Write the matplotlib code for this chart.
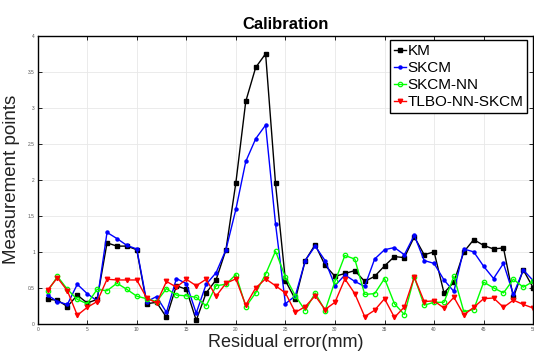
import numpy as np
import matplotlib
matplotlib.use('Agg')
import matplotlib.pyplot as plt

plt.rcParams['font.family'] = ['Liberation Sans', 'DejaVu Sans']

x = np.arange(1, 51)

km = [0.34, 0.33, 0.24, 0.40, 0.29, 0.34, 1.125, 1.08, 1.08, 1.03,
      0.28, 0.30, 0.09, 0.53, 0.48, 0.05, 0.43, 0.61, 1.03, 1.96,
      3.09, 3.56, 3.75, 1.95, 0.60, 0.34, 0.88, 1.10, 0.815, 0.66,
      0.70, 0.74, 0.59, 0.66, 0.805, 0.935, 0.92, 1.21, 0.96, 1.00,
      0.43, 0.58, 1.00, 1.17, 1.09, 1.04, 1.055, 0.37, 0.75, 0.50]
skcm = [0.40, 0.31, 0.27, 0.55, 0.42, 0.32, 1.27, 1.185, 1.09, 1.04,
        0.31, 0.38, 0.16, 0.63, 0.56, 0.15, 0.55, 0.71, 1.03, 1.59,
        2.255, 2.57, 2.76, 1.39, 0.28, 0.39, 0.88, 1.08, 0.88, 0.53,
        0.68, 0.59, 0.52, 0.90, 1.03, 1.06, 0.96, 1.23, 0.88, 0.84,
        0.61, 0.45, 1.04, 1.00, 0.80, 0.63, 0.84, 0.41, 0.75, 0.60]
skcm_nn = [0.45, 0.66, 0.48, 0.34, 0.28, 0.48, 0.46, 0.565, 0.48, 0.385,
           0.35, 0.31, 0.49, 0.40, 0.39, 0.37, 0.25, 0.53, 0.55, 0.685,
           0.24, 0.43, 0.69, 1.01, 0.65, 0.39, 0.185, 0.43, 0.185, 0.59,
           0.95, 0.90, 0.41, 0.42, 0.63, 0.28, 0.13, 0.65, 0.26, 0.30,
           0.30, 0.66, 0.17, 0.20, 0.58, 0.50, 0.43, 0.62, 0.51, 0.59]
tlbo = [0.47, 0.64, 0.46, 0.12, 0.23, 0.31, 0.62, 0.61, 0.61, 0.61,
        0.36, 0.29, 0.59, 0.51, 0.62, 0.53, 0.62, 0.385, 0.565, 0.625,
        0.26, 0.50, 0.625, 0.53, 0.43, 0.16, 0.24, 0.39, 0.20, 0.30,
        0.625, 0.42, 0.10, 0.19, 0.35, 0.09, 0.235, 0.65, 0.31, 0.32,
        0.22, 0.37, 0.125, 0.23, 0.35, 0.36, 0.23, 0.33, 0.27, 0.22]

fig = plt.figure(figsize=(5.34, 3.54), dpi=100)
ax = fig.add_axes([0.0705, 0.085, 0.928, 0.814])

ax.plot(x, km, '-s', color='k', lw=1.0, ms=2.2, label='KM')
ax.plot(x, skcm, '-o', color='#0000ff', lw=1.0, ms=2.2, label='SKCM')
ax.plot(x, skcm_nn, '-o', color='#00ff00', lw=1.0, ms=3.2, mfc='none', mew=0.9, label='SKCM-NN')
ax.plot(x, tlbo, '-v', color='#ff0000', lw=1.0, ms=3.2, label='TLBO-NN-SKCM')

ax.set_xlim(0, 50)
ax.set_ylim(0, 4)
ax.set_xticks(np.arange(0, 51, 5))
ax.set_yticks(np.arange(0, 4.01, 0.5))
ax.set_yticklabels(['0', '0.5', '1', '1.5', '2', '2.5', '3', '3.5', '4'])
ax.tick_params(direction='in', top=True, right=True, length=3, width=0.6,
               labelsize=3.5, colors='k', labelcolor='#555555', pad=2)
ax.grid(True, color='#e8e8e8', lw=0.6)
ax.set_axisbelow(True)
for s in ax.spines.values():
    s.set_linewidth(1.0)

ax.set_title('Calibration', fontsize=12, fontweight='bold', pad=5)
ax.set_xlabel('Residual error(mm)', fontsize=13, color='#222222', labelpad=2)
ax.set_ylabel('Measurement points', fontsize=13.5, color='#222222', labelpad=6)

leg = ax.legend(loc='upper right', bbox_to_anchor=(0.988, 0.985), fontsize=11,
                handlelength=0.8, handletextpad=0.1, labelspacing=0.2,
                borderpad=0.25, borderaxespad=0, fancybox=False, framealpha=1)
leg.get_frame().set_edgecolor('k')
leg.get_frame().set_linewidth(1.0)

fig.savefig('out.png', dpi=100)
